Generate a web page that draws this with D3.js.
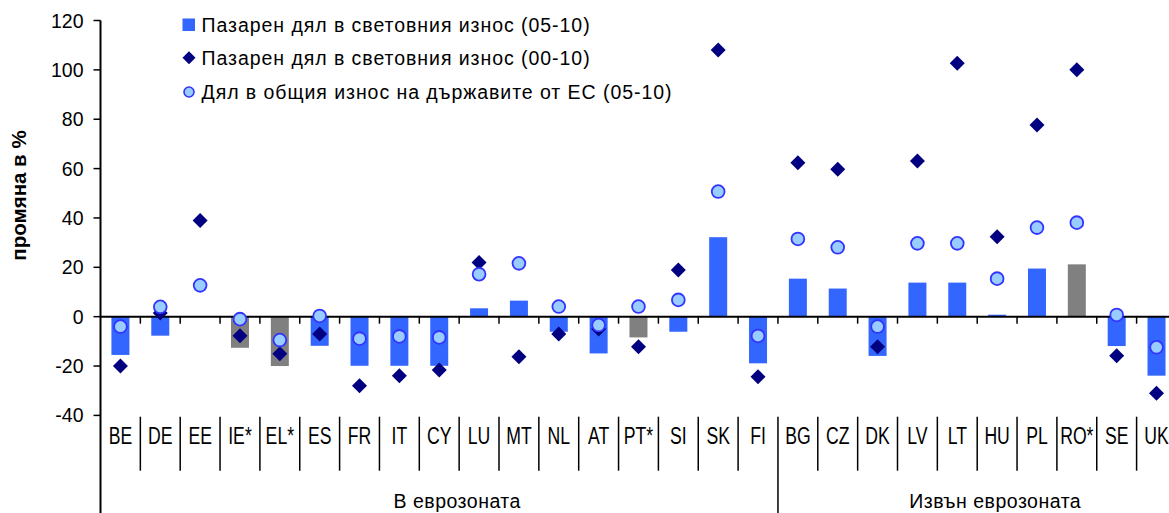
<!DOCTYPE html>
<html>
<head>
<meta charset="utf-8">
<script src="https://cdn.jsdelivr.net/npm/d3@7"></script>
<style>
  html, body { margin: 0; padding: 0; background: #fff; }
  svg { display: block; }
  text { font-family: Arial, "Liberation Sans", sans-serif; fill: #000; }
</style>
</head>
<body>
<svg id="chart" width="1169" height="513"></svg>
<script>
// ---- data ----
const categories = ["BE","DE","EE","IE*","EL*","ES","FR","IT","CY","LU","MT","NL","AT","PT*","SI","SK","FI",
                    "BG","CZ","DK","LV","LT","HU","PL","RO*","SE","UK"];
const groups = ["В еврозоната", "Извън еврозоната"];
const groupSizes = [17, 10];
const seriesNames = ["Пазарен дял в световния износ (05-10)",
                     "Пазарен дял в световния износ (00-10)",
                     "Дял в общия износ на държавите от ЕС (05-10)"];
const worldShare0510 = [-15.5, -7.7, 0, -12.6, -20, -11.8, -19.9, -19.9, -19.9, 3.4, 6.5, -6.1, -14.9, -8.4, -6.1, 32.2, -18.9,
                        15.4, 11.4, -15.9, 13.8, 13.8, 0.8, 19.5, 21.2, -11.9, -23.9];
const worldShare0010 = [-20, 1.5, 39, -7.7, -15, -7, -28, -23.9, -21.6, 21.9, -16.2, -7, -5, -12.2, 18.9, 108, -24.3,
                        62.4, 59.7, -12.2, 63.1, 102.7, 32.4, 77.7, 100, -15.8, -31];
const euShare0510 = [-4, 4, 12.7, -1, -9.5, 0.3, -8.9, -8, -8.4, 17.2, 21.6, 4.1, -3.4, 4.1, 6.8, 50.7, -7.8,
                     31.5, 28.1, -4, 29.7, 29.7, 15.4, 36.1, 38.1, 0.7, -12.4];
const yTicks = [-40, -20, 0, 20, 40, 60, 80, 100, 120];
const yTitle = "промяна в %";

// ---- layout ----
const svg = d3.select("#chart");
const axisX = 100.5;
const bandW = 39.85;
const x = d3.scaleBand().domain(categories).range([axisX, axisX + bandW * categories.length]).paddingInner(0).paddingOuter(0);
const y = d3.scaleLinear().domain([-40, 120]).range([415.4, 20.5]);
const barW = 18;
const blue = "#3366FF", grey = "#808080", navy = "#000080", circFill = "#99CCFF", circStroke = "#3333FF";

// bars
svg.append("g").selectAll("rect").data(categories).join("rect")
  .attr("x", d => x(d) + x.bandwidth() / 2 - barW / 2)
  .attr("width", barW)
  .attr("y", (d, i) => y(Math.max(0, worldShare0510[i])))
  .attr("height", (d, i) => Math.abs(y(worldShare0510[i]) - y(0)))
  .attr("fill", d => d.endsWith("*") ? grey : blue);

// zero axis line + ticks
svg.append("line").attr("x1", axisX).attr("x2", 1169).attr("y1", y(0)).attr("y2", y(0))
  .attr("stroke", "#000").attr("stroke-width", 2);
const bounds = d3.range(1, categories.length + 1).map(k => axisX + k * bandW);
svg.append("g").selectAll("line").data(bounds).join("line")
  .attr("x1", d => d).attr("x2", d => d).attr("y1", y(0)).attr("y2", y(0) + 7)
  .attr("stroke", "#000").attr("stroke-width", 1.5);

// diamonds
const dia = 7.5;
svg.append("g").selectAll("path").data(categories).join("path")
  .attr("d", `M0,${-dia}L${dia},0L0,${dia}L${-dia},0Z`)
  .attr("transform", (d, i) => `translate(${x(d) + x.bandwidth() / 2},${y(worldShare0010[i])})`)
  .attr("fill", navy);

// circles
svg.append("g").selectAll("circle").data(categories).join("circle")
  .attr("cx", d => x(d) + x.bandwidth() / 2)
  .attr("cy", (d, i) => y(euShare0510[i]))
  .attr("r", 6.4)
  .attr("fill", circFill).attr("stroke", circStroke).attr("stroke-width", 1.8);

// y axis
svg.append("line").attr("x1", axisX).attr("x2", axisX).attr("y1", y(120)).attr("y2", 513)
  .attr("stroke", "#000").attr("stroke-width", 2);
const yg = svg.append("g");
yg.selectAll("line").data(yTicks).join("line")
  .attr("x1", axisX - 7).attr("x2", axisX).attr("y1", d => y(d)).attr("y2", d => y(d))
  .attr("stroke", "#000").attr("stroke-width", 1.5);
yg.selectAll("text").data(yTicks).join("text")
  .attr("x", 83.5).attr("y", d => y(d) + 7)
  .attr("text-anchor", "end").attr("font-size", 19.5)
  .text(d => d);

svg.append("text")
  .attr("transform", "translate(26,195.5) rotate(-90)")
  .attr("text-anchor", "middle").attr("font-size", 20.5).attr("font-weight", "bold")
  .text(yTitle);

// category separators & labels
const sepTop = 416.7;
svg.append("g").selectAll("line").data(bounds.slice(0, categories.length - 1)).join("line")
  .attr("x1", d => d).attr("x2", d => d)
  .attr("y1", sepTop)
  .attr("y2", (d, i) => (i + 1) === groupSizes[0] ? 513 : 470.7)
  .attr("stroke", "#000").attr("stroke-width", 1.5);

svg.append("g").selectAll("text").data(categories).join("text")
  .attr("transform", d => `translate(${x(d) + x.bandwidth() / 2},444.3) scale(0.72,1)`)
  .attr("text-anchor", "middle").attr("font-size", 24.5)
  .text(d => d);

// group labels
let start = 0;
groups.forEach((g, gi) => {
  const x0 = axisX + start * bandW;
  const x1 = axisX + (start + groupSizes[gi]) * bandW;
  svg.append("text")
    .attr("x", (x0 + x1) / 2 + 18).attr("y", 508.3)
    .attr("text-anchor", "middle").attr("font-size", 19.5)
    .attr("letter-spacing", 0.5)
    .text(g);
  start += groupSizes[gi];
});

// legend
const lg = svg.append("g");
const lx = 189, rows = [25, 57.7, 92];
lg.append("rect").attr("x", lx - 6.5).attr("y", rows[0] - 6.5).attr("width", 12.5).attr("height", 12.5).attr("fill", blue);
lg.append("path").attr("d", "M0,-6.5L6.5,0L0,6.5L-6.5,0Z").attr("transform", `translate(${lx},${rows[1]})`).attr("fill", navy);
lg.append("circle").attr("cx", lx).attr("cy", rows[2]).attr("r", 5).attr("fill", circFill).attr("stroke", circStroke).attr("stroke-width", 1.6);
lg.selectAll("text").data(seriesNames).join("text")
  .attr("x", 201.5).attr("y", (d, i) => rows[i] + 7)
  .attr("font-size", 19.5)
  .attr("letter-spacing", 0.95)
  .text(d => d);
</script>
</body>
</html>
